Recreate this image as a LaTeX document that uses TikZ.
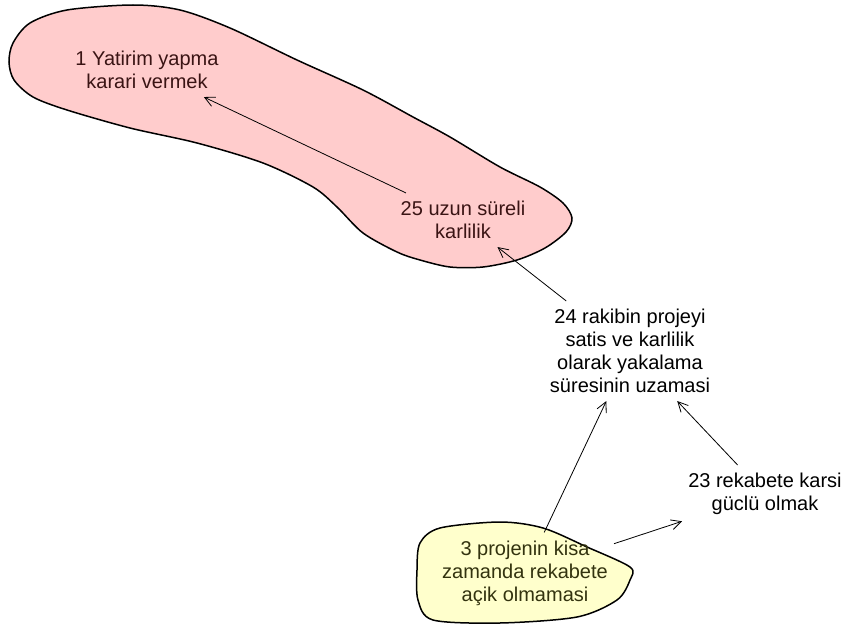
\documentclass[tikz,border=0pt]{standalone}
\usepackage{fontspec}
\setmainfont{Liberation Sans}
\usepackage{xcolor}
\usepackage{tikz}
\usetikzlibrary{arrows.meta,positioning}

\definecolor{blobpink}{HTML}{FFCCCC}
\definecolor{blobyellow}{HTML}{FFFFCC}
\definecolor{textpink}{HTML}{3A1414}
\definecolor{textyellow}{HTML}{33330F}

\begin{document}
\begin{tikzpicture}[
    x=1pt, y=-1pt,
    font=\fontsize{20}{23}\selectfont,
    txt/.style={align=center, inner xsep=6pt, inner ysep=8pt},
    blob/.style={draw=black, line width=1.5pt},
    arr/.style={-{Straight Barb[length=10pt,width=10pt]}, line width=0.8pt, black}
  ]
    \useasboundingbox (0,0) rectangle (844,626);
    \filldraw[blob, fill=blobpink] plot[smooth cycle] coordinates {
      (9,62) (13,43) (30,23) (67,10) (133,5) (180,10) (230,28) (297,60)
      (363,90) (413,117) (450,137) (500,167) (540,187) (563,203) (572,218)
      (566,232) (545,248) (517,260) (483,267) (450,267) (420,260) (397,252)
      (363,233) (337,207) (313,187) (263,163) (197,143) (130,128) (67,110)
      (33,97) (14,80)};
    \filldraw[blob, fill=blobyellow] plot[smooth cycle] coordinates {
      (420,543) (440,528) (500,522) (543,528) (587,547) (630,567) (630,580)
      (617,600) (577,617) (500,623) (433,620) (418,600) (417,570)};
    \node[txt, text=textpink] (n1) at (147,70) {1 Yatirim yapma\\karari vermek};
    \node[txt, text=textpink] (n25) at (463,220) {25 uzun süreli\\karlilik};
    \node[txt] (n24) at (630,351) {24 rakibin projeyi\\satis ve karlilik\\olarak yakalama\\süresinin uzamasi};
    \node[txt] (n23) at (765,494) {23 rekabete karsi\\güclü olmak};
    \node[txt, text=textyellow] (n3) at (525,573) {3 projenin kisa\\zamanda rekabete\\açik olmamasi};
    \draw[arr] (n25) -- (n1);
    \draw[arr] (n24) -- (n25);
    \draw[arr] (n23) -- (n24);
    \draw[arr] (n3) -- (n24);
    \draw[arr] (n3) -- (n23);
  \end{tikzpicture}
\end{document}
